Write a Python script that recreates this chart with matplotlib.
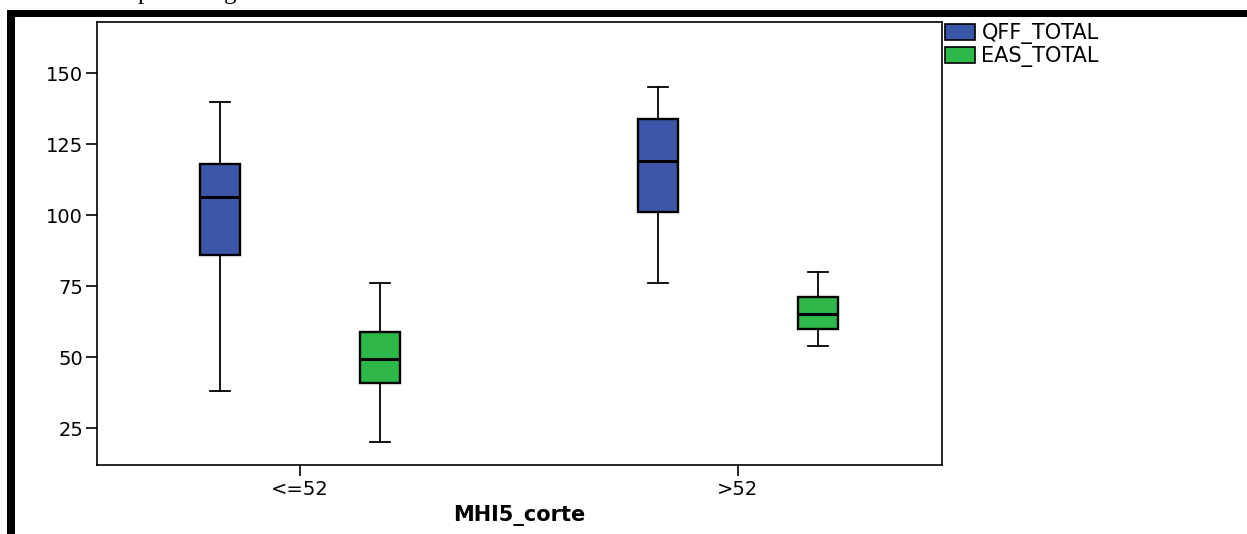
import matplotlib
matplotlib.use("Agg")
import matplotlib.pyplot as plt
from matplotlib.patches import Patch, Rectangle

plt.rcParams['font.family'] = ['DejaVu Sans']

# data
groups = ["<=52", ">52"]
series = ["QFF_TOTAL", "EAS_TOTAL"]
colors = ["#3d57a8", "#2eb84a"]

# (whisker low, Q1, median, Q3, whisker high) per group
qff_stats = [(38, 86, 106.5, 118, 140), (76, 101, 119, 134, 145)]
eas_stats = [(20, 41, 49.5, 59, 76), (54, 60, 65, 71, 80)]

W, H = 1247, 534
fig = plt.figure(figsize=(W / 100, H / 100), dpi=100)
ax = fig.add_axes([97 / W, 1 - 465 / H, (942 - 97) / W, (465 - 22) / H])

offset = 0.183
width = 0.091

for s, (stats, col) in enumerate(zip([qff_stats, eas_stats], colors)):
    bxp = []
    for lo, q1, med, q3, hi in stats:
        bxp.append(dict(whislo=lo, q1=q1, med=med, q3=q3, whishi=hi, fliers=[]))
    pos = [i + (offset if s else -offset) for i in range(len(groups))]
    ax.bxp(bxp, positions=pos, widths=width, patch_artist=True,
           showfliers=False, manage_ticks=False,
           boxprops=dict(facecolor=col, edgecolor="black", linewidth=1.7),
           medianprops=dict(color="black", linewidth=2.2),
           whiskerprops=dict(color="black", linewidth=1.3),
           capprops=dict(color="black", linewidth=1.3),
           capwidths=width / 2)

ax.set_xlim(-0.463, 1.466)
ax.set_ylim(12, 168)
ax.set_xticks(range(len(groups)))
ax.set_xticklabels(groups)
ax.set_yticks([25, 50, 75, 100, 125, 150])
ax.tick_params(axis="both", labelsize=14, length=8, width=1.2, direction="out", pad=2)
ax.tick_params(axis="x", pad=3)
ax.set_xlabel("MHI5_corte", fontsize=15, fontweight="bold", labelpad=4)
for sp in ax.spines.values():
    sp.set_linewidth(1.2)

handles = [Patch(facecolor=c, edgecolor="black", linewidth=1.2) for c in colors]
fig.legend(handles, series, loc="upper left", bbox_to_anchor=(945 / W, 1 - 23 / H),
           frameon=False, fontsize=15, handlelength=1.45, handleheight=0.8,
           handletextpad=0.3, labelspacing=0.1, borderpad=0, borderaxespad=0)

# thick page frame from the source document
fig.add_artist(Rectangle((7 / W, 0), 8 / W, (H - 10) / H, transform=fig.transFigure,
                         facecolor="black", edgecolor="none"))
fig.add_artist(Rectangle((7 / W, 1 - 17 / H), 1, 7 / H, transform=fig.transFigure,
                         facecolor="black", edgecolor="none"))
# descenders of the cut-off caption above
fig.text(138 / W, 1 + 1 / H, "p", family="Liberation Serif", fontsize=18, va="baseline")
fig.text(224 / W, 1 + 1 / H, "g", family="Liberation Serif", fontsize=18, va="baseline")

fig.savefig("out.png", dpi=100)
